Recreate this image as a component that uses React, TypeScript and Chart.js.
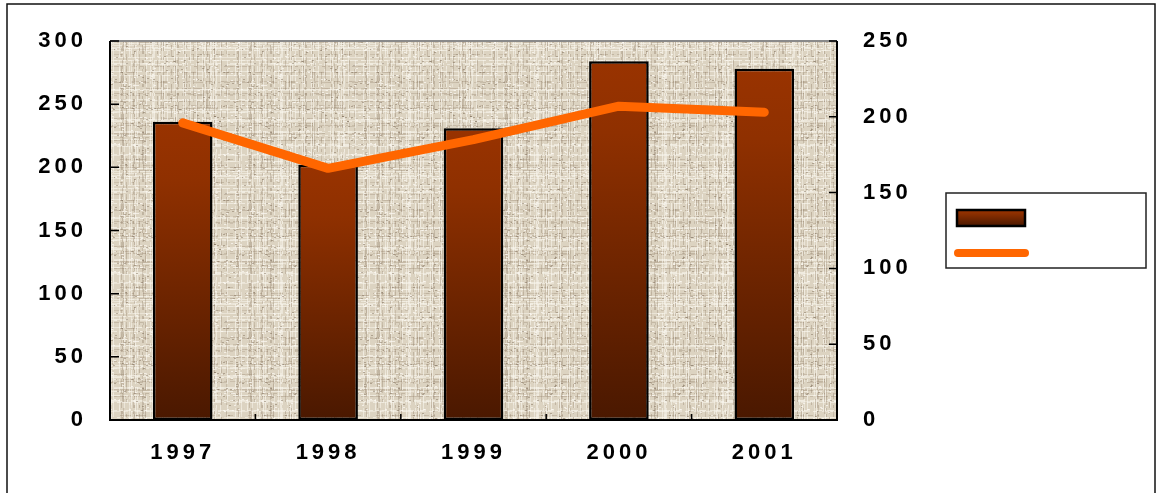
import React, { useEffect, useRef } from 'react';
import { Chart, registerables } from 'chart.js';

Chart.register(...registerables);

const categories = ['1997', '1998', '1999', '2000', '2001'];
const barValues = [236, 202, 231, 284, 278];
const lineValues = [196, 166, 185, 207, 203];
const leftTicks = [0, 50, 100, 150, 200, 250, 300];
const rightTicks = [0, 50, 100, 150, 200, 250];

const W = 1157;
const H = 493;
const FONT = '"Liberation Sans", Arial, sans-serif';
const LETTER_SPACING = '4px';

function hash(a: number, b: number): number {
  let h = (Math.imul(a, 374761393) + Math.imul(b, 668265263)) | 0;
  h = Math.imul(h ^ (h >>> 13), 1274126177);
  h = h ^ (h >>> 16);
  return (h >>> 0) / 4294967296;
}

function makeTexture(): HTMLCanvasElement {
  const size = 128;
  const c = document.createElement('canvas');
  c.width = size;
  c.height = size;
  const g = c.getContext('2d')!;
  g.fillStyle = '#dcd3c1';
  g.fillRect(0, 0, size, size);
  // horizontal threads
  for (let y = 0; y < size; y++) {
    const r = hash(y, 7);
    for (let x = 0; x < size; x += 3) {
      const s = hash(x, y);
      if (r < 0.3 && s < 0.75) {
        g.fillStyle = `rgba(248,245,236,${0.45 + s * 0.4})`;
        g.fillRect(x, y, 3, 1);
      } else if (r > 0.8 && s < 0.5) {
        g.fillStyle = `rgba(155,137,115,${0.25 + s * 0.35})`;
        g.fillRect(x, y, 3, 1);
      }
    }
  }
  // vertical threads
  for (let x = 0; x < size; x++) {
    const r = hash(x, 13);
    for (let y = 0; y < size; y += 3) {
      const s = hash(y + 500, x);
      if (r < 0.28 && s < 0.75) {
        g.fillStyle = `rgba(249,246,238,${0.4 + s * 0.4})`;
        g.fillRect(x, y, 1, 3);
      } else if (r > 0.82 && s < 0.5) {
        g.fillStyle = `rgba(145,127,105,${0.25 + s * 0.35})`;
        g.fillRect(x, y, 1, 3);
      }
    }
  }
  // specks
  for (let i = 0; i < 350; i++) {
    const x = Math.floor(hash(i, 99) * size);
    const y = Math.floor(hash(i, 131) * size);
    const t = hash(i, 171);
    g.fillStyle = t < 0.45 ? 'rgba(120,103,83,0.45)' : 'rgba(252,250,244,0.7)';
    g.fillRect(x, y, 2, 1);
  }
  return c;
}

function barGradient(ctx: CanvasRenderingContext2D, top: number, bottom: number) {
  const gr = ctx.createLinearGradient(0, top, 0, bottom);
  gr.addColorStop(0, '#993300');
  gr.addColorStop(0.2, '#8f3000');
  gr.addColorStop(1, '#4a1800');
  return gr;
}

export default function App() {
  const ref = useRef<HTMLCanvasElement | null>(null);

  useEffect(() => {
    document.body.style.margin = '0';
    const canvas = ref.current!;
    const texture = makeTexture();

    const spacingPlugin = {
      id: 'spacing',
      beforeUpdate(chart: any) {
        chart.ctx.letterSpacing = LETTER_SPACING;
      },
      beforeLayout(chart: any) {
        chart.ctx.letterSpacing = LETTER_SPACING;
      },
      beforeDraw(chart: any) {
        chart.ctx.letterSpacing = LETTER_SPACING;
      },
    };

    const decorPlugin = {
      id: 'decor',
      beforeDatasetsDraw(chart: any) {
        const { ctx, chartArea: a } = chart;
        ctx.save();
        const pat = ctx.createPattern(texture, 'repeat');
        ctx.fillStyle = pat;
        ctx.fillRect(a.left, a.top, a.right - a.left, a.bottom - a.top);
        ctx.restore();
      },
      afterDraw(chart: any) {
        const { ctx, chartArea: a, scales } = chart;
        ctx.save();
        ctx.letterSpacing = '0px';
        // plot frame
        ctx.lineWidth = 2;
        ctx.strokeStyle = '#8a8a8a';
        ctx.beginPath();
        ctx.moveTo(a.left, a.top);
        ctx.lineTo(a.right, a.top);
        ctx.stroke();
        ctx.strokeStyle = '#000';
        ctx.beginPath();
        ctx.moveTo(a.left, a.top);
        ctx.lineTo(a.left, a.bottom);
        ctx.lineTo(a.right, a.bottom);
        ctx.lineTo(a.right, a.top);
        ctx.stroke();
        // inward tick marks
        ctx.lineWidth = 1.5;
        ctx.beginPath();
        for (const v of leftTicks) {
          const y = scales.y.getPixelForValue(v);
          ctx.moveTo(a.left, y);
          ctx.lineTo(a.left + 9, y);
        }
        for (const v of rightTicks) {
          const y = scales.y1.getPixelForValue(v);
          ctx.moveTo(a.right, y);
          ctx.lineTo(a.right - 8, y);
        }
        const step = (a.right - a.left) / categories.length;
        for (let i = 1; i < categories.length; i++) {
          const x = a.left + step * i;
          ctx.moveTo(x, a.bottom);
          ctx.lineTo(x, a.bottom - 6);
        }
        ctx.stroke();

        // legend box
        const lx = a.right + 109;
        const ly = 193;
        ctx.lineWidth = 1.5;
        ctx.strokeStyle = '#222';
        ctx.fillStyle = '#fff';
        ctx.fillRect(lx, ly, 200, 75);
        ctx.strokeRect(lx, ly, 200, 75);
        // bar swatch
        ctx.fillStyle = barGradient(ctx, ly + 17, ly + 33);
        ctx.fillRect(lx + 11, ly + 17, 68, 16);
        ctx.lineWidth = 2.5;
        ctx.strokeStyle = '#000';
        ctx.strokeRect(lx + 11, ly + 17, 68, 16);
        // line swatch
        ctx.lineCap = 'round';
        ctx.lineWidth = 8;
        ctx.strokeStyle = '#ff6600';
        ctx.beginPath();
        ctx.moveTo(lx + 12, ly + 60);
        ctx.lineTo(lx + 79, ly + 60);
        ctx.stroke();

        // outer frame
        ctx.lineCap = 'butt';
        ctx.lineWidth = 1.5;
        ctx.strokeStyle = '#111';
        ctx.strokeRect(7, 4, W - 9, H + 10);
        ctx.restore();
      },
    };

    const tickFont = { family: FONT, size: 22, weight: 'bold' as const };

    const chart = new Chart(canvas, {
      type: 'bar',
      data: {
        labels: categories,
        datasets: [
          {
            type: 'line',
            label: 'line',
            data: lineValues,
            yAxisID: 'y1',
            borderColor: '#ff6600',
            borderWidth: 9,
            borderCapStyle: 'round',
            borderJoinStyle: 'round',
            pointRadius: 0,
            tension: 0,
            fill: false,
            order: 0,
          } as any,
          {
            type: 'bar',
            label: 'bar',
            data: barValues,
            yAxisID: 'y',
            backgroundColor: (c: any) => {
              const chart = c.chart;
              const a = chart.chartArea;
              if (!a || c.parsed == null || c.parsed.y == null) return '#7a2800';
              const top = chart.scales.y.getPixelForValue(c.parsed.y);
              return barGradient(chart.ctx, top, a.bottom);
            },
            borderColor: '#000',
            borderWidth: 2.5,
            borderSkipped: false,
            barPercentage: 0.41,
            categoryPercentage: 1,
            order: 1,
          } as any,
        ],
      },
      options: {
        responsive: false,
        animation: false,
        devicePixelRatio: 1,
        layout: { padding: { top: 41, left: 0, right: 0, bottom: 0 } },
        plugins: {
          legend: { display: false },
          tooltip: { enabled: false },
        },
        scales: {
          x: {
            type: 'category',
            offset: true,
            grid: { display: false, drawTicks: false },
            border: { display: false },
            ticks: { font: tickFont, color: '#000', padding: 20 },
            afterFit: (s: any) => {
              s.height = 73;
            },
          },
          y: {
            position: 'left',
            min: 0,
            max: 300,
            grid: { display: false, drawTicks: false },
            border: { display: false },
            ticks: { font: tickFont, color: '#000', padding: 23 },
            afterBuildTicks: (s: any) => {
              s.ticks = leftTicks.map((v) => ({ value: v }));
            },
            afterFit: (s: any) => {
              s.width = 110;
            },
          },
          y1: {
            position: 'right',
            min: 0,
            max: 250,
            grid: { display: false, drawTicks: false },
            border: { display: false },
            ticks: { font: tickFont, color: '#000', padding: 26 },
            afterBuildTicks: (s: any) => {
              s.ticks = rightTicks.map((v) => ({ value: v }));
            },
            afterFit: (s: any) => {
              s.width = 320;
            },
          },
        },
      },
      plugins: [spacingPlugin, decorPlugin],
    } as any);

    return () => chart.destroy();
  }, []);

  return (
    <div style={{ width: W, height: H, position: 'relative', background: '#fff' }}>
      <canvas ref={ref} width={W} height={H} style={{ display: 'block' }} />
    </div>
  );
}
